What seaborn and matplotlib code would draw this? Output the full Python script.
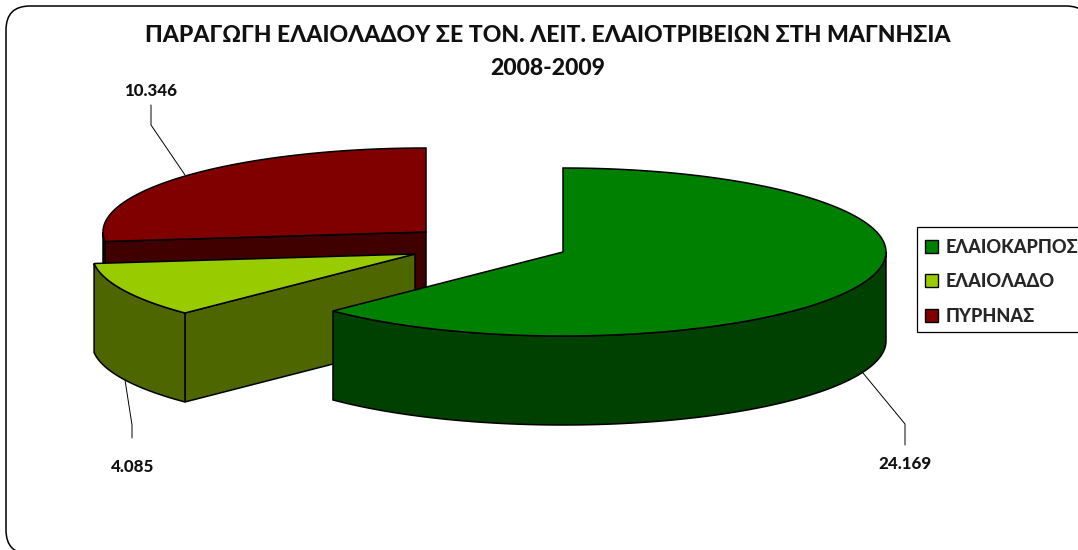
import numpy as np
import matplotlib.pyplot as plt
import seaborn as sns
from matplotlib.patches import FancyBboxPatch, Patch, Rectangle

categories = ['ΕΛΑΙΟΚΑΡΠΟΣ', 'ΕΛΑΙΟΛΑΔΟ', 'ΠΥΡΗΝΑΣ']
values = [24169, 4085, 10346]
value_labels = ['24.169', '4.085', '10.346']
title_lines = 'ΠΑΡΑΓΩΓΗ ΕΛΑΙΟΛΑΔΟΥ ΣΕ ΤΟΝ. ΛΕΙΤ. ΕΛΑΙΟΤΡΙΒΕΙΩΝ ΣΤΗ ΜΑΓΝΗΣΙΑ\n2008-2009'

top_colors = sns.color_palette(['#008000', '#99cc00', '#800000'])
side_colors = sns.color_palette(['#004000', '#4d6600', '#400000'])

# pixel layout of the exploded 3d pie
centers = [(563, 252), (415, 254), (426, 232)]
rx, ry, depth = 323, 84, 89
# label position and leader line for each slice
label_pos = [(905, 464), (133, 467), (151, 91)]
leaders = [
    [(863, 373), (905, 424), (905, 445)],
    [(125, 380), (132, 425), (132, 438)],
    [(185, 175), (151, 125), (151, 105)],
]

sns.set_theme(style='white')
plt.rcParams['font.family'] = ['Lato', 'Noto Sans', 'DejaVu Sans']


def ellipse(center, t):
    t = np.radians(t)
    return center[0] + rx * np.sin(t), center[1] - ry * np.cos(t)


def draw_slice(ax, center, a0, a1, top, side):
    # front cut face
    if 180 < a0 < 360:
        x, y = ellipse(center, a0)
        ax.fill([center[0], x, x, center[0]], [center[1], y, y + depth, center[1] + depth],
                fc=side, ec='black', lw=1.1)
    # outer wall, only the part facing the viewer
    lo, hi = max(a0, 90), min(a1, 270)
    if hi > lo:
        t = np.linspace(lo, hi, 80)
        x, y = ellipse(center, t)
        ax.fill(np.r_[x, x[::-1]], np.r_[y, y[::-1] + depth], fc=side, ec='black', lw=1.1)
    t = np.linspace(a0, a1, 160)
    x, y = ellipse(center, t)
    ax.fill(np.r_[center[0], x], np.r_[center[1], y], fc=top, ec='black', lw=1.1)


fig, ax = plt.subplots(figsize=(10.78, 5.5), dpi=100)
fig.subplots_adjust(0, 0, 1, 1)
ax.set_xlim(0, 1078)
ax.set_ylim(550, 0)
ax.axis('off')

# the frame runs off the right and bottom of the picture
ax.add_patch(FancyBboxPatch((6, 6), 1084, 548, boxstyle='round,pad=0,rounding_size=24',
                            fc='white', ec='black', lw=1.1))

ax.text(548, 52, title_lines, ha='center', va='center', fontsize=16.6, fontweight=900,
        linespacing=1.75, color='#111111')

edges = np.r_[0, np.cumsum(values)] / np.sum(values) * 360
# back slice first so the nearer ones cover it
for i in [2, 1, 0]:
    draw_slice(ax, centers[i], edges[i], edges[i + 1], top_colors[i], side_colors[i])

for txt, pos, line in zip(value_labels, label_pos, leaders):
    xs, ys = zip(*line)
    ax.plot(xs, ys, color='black', lw=0.7)
    ax.text(pos[0], pos[1], txt, ha='center', va='center', fontsize=12.2, fontweight=900,
            color='#111111')

ax.add_patch(Rectangle((917, 227), 170, 105, fc='white', ec='black', lw=0.9))
handles = [Patch(fc=c, ec='black', lw=1.0, label=n) for c, n in zip(top_colors, categories)]
ax.legend(handles=handles, loc='upper left', bbox_to_anchor=(915, 229),
          bbox_transform=ax.transData, frameon=False,
          prop={'weight': 900, 'size': 13.1}, handlelength=0.72, handleheight=0.72,
          handletextpad=0.39, labelspacing=0.95, borderpad=0.55, borderaxespad=0)

fig.savefig('out.png', dpi=100)
plt.close()
